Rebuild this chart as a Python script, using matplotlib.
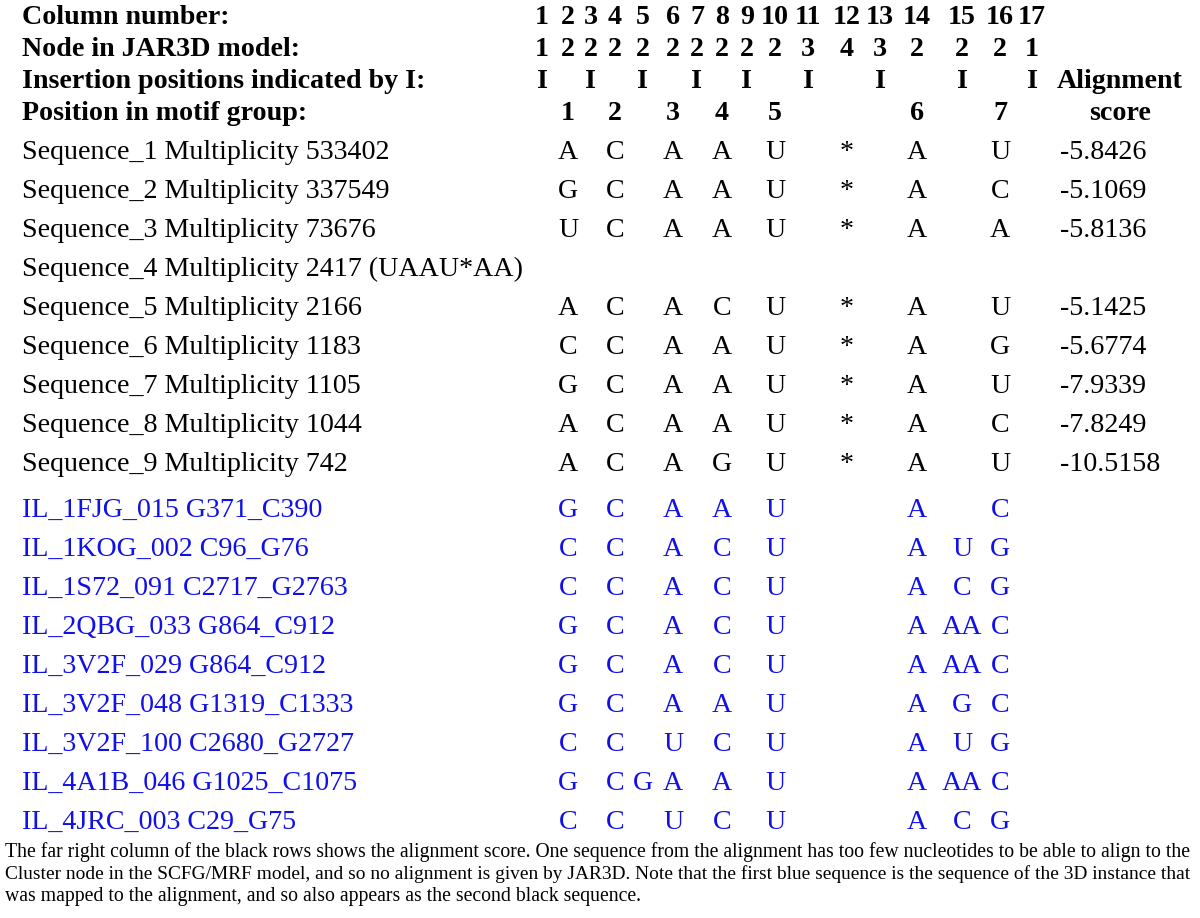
import matplotlib.pyplot as plt

plt.rcParams['font.family'] = ['Liberation Serif', 'DejaVu Serif']

# header rows (one entry per alignment column)
column_numbers = [str(i) for i in range(1, 18)]
node_numbers = ['1', '2', '2', '2', '2', '2', '2', '2', '2', '2', '3', '4', '3', '2', '2', '2', '1']
insertions = ['I', '', 'I', '', 'I', '', 'I', '', 'I', '', 'I', '', 'I', '', 'I', '', 'I']
motif_positions = ['', '1', '', '2', '', '3', '', '4', '', '5', '', '', '', '6', '', '7', '']

header_labels = ['Column number:', 'Node in JAR3D model:',
                 'Insertion positions indicated by I:', 'Position in motif group:']

# black rows: sequences from the alignment
seq_labels = ['Sequence_1 Multiplicity 533402', 'Sequence_2 Multiplicity 337549',
              'Sequence_3 Multiplicity 73676', 'Sequence_4 Multiplicity 2417 (UAAU*AA)',
              'Sequence_5 Multiplicity 2166', 'Sequence_6 Multiplicity 1183',
              'Sequence_7 Multiplicity 1105', 'Sequence_8 Multiplicity 1044',
              'Sequence_9 Multiplicity 742']
seq_cells = [
    '. A . C . A . A . U . * . A . U .',
    '. G . C . A . A . U . * . A . C .',
    '. U . C . A . A . U . * . A . A .',
    '',
    '. A . C . A . C . U . * . A . U .',
    '. C . C . A . A . U . * . A . G .',
    '. G . C . A . A . U . * . A . U .',
    '. A . C . A . A . U . * . A . C .',
    '. A . C . A . G . U . * . A . U .',
]
seq_scores = ['-5.8426', '-5.1069', '-5.8136', '', '-5.1425', '-5.6774',
              '-7.9339', '-7.8249', '-10.5158']

# blue rows: 3D instances
inst_labels = ['IL_1FJG_015 G371_C390', 'IL_1KOG_002 C96_G76', 'IL_1S72_091 C2717_G2763',
               'IL_2QBG_033 G864_C912', 'IL_3V2F_029 G864_C912', 'IL_3V2F_048 G1319_C1333',
               'IL_3V2F_100 C2680_G2727', 'IL_4A1B_046 G1025_C1075', 'IL_4JRC_003 C29_G75']
inst_cells = [
    '. G . C . A . A . U . . . A . C .',
    '. C . C . A . C . U . . . A U G .',
    '. C . C . A . C . U . . . A C G .',
    '. G . C . A . C . U . . . A AA C .',
    '. G . C . A . C . U . . . A AA C .',
    '. G . C . A . A . U . . . A G C .',
    '. C . C . U . C . U . . . A U G .',
    '. G . C G A . A . U . . . A AA C .',
    '. C . C . U . C . U . . . A C G .',
]

caption_lines = [
    "The far right column of the black rows shows the alignment score. One sequence from the alignment has too few nucleotides to be able to align to the",
    "Cluster node in the SCFG/MRF model, and so no alignment is given by JAR3D. Note that the first blue sequence is the sequence of the 3D instance that",
    "was mapped to the alignment, and so also appears as the second black sequence.",
]

# layout (pixels)
col_x = [542, 568, 591, 615, 643, 673, 697, 722, 747, 775, 808, 847, 880, 917, 962, 1000, 1032]
label_x = 22
score_x = 1060
fs = 20.2
blue = '#1010e8'

fig = plt.figure(figsize=(12, 9.18), dpi=100)
ax = fig.add_axes([0, 0, 1, 1])
ax.set_xlim(0, 1200)
ax.set_ylim(918, 0)
ax.axis('off')

header_y = [24, 56, 88, 120]
for y, lab, cells in zip(header_y, header_labels,
                         [column_numbers, node_numbers, insertions, motif_positions]):
    ax.text(label_x, y, lab, fontsize=fs, fontweight='bold', va='baseline')
    for x, c in zip(col_x, cells):
        ax.text(x, y, c, fontsize=fs, fontweight='bold', ha='center', va='baseline')
ax.text(1120, header_y[2], 'Alignment', fontsize=fs, fontweight='bold', ha='center', va='baseline')
ax.text(1120, header_y[3], 'score', fontsize=fs, fontweight='bold', ha='center', va='baseline')


def draw_rows(y0, labels, cells, color, scores=None):
    for i, lab in enumerate(labels):
        y = y0 + 39 * i
        ax.text(label_x, y, lab, fontsize=fs, color=color, va='baseline')
        if cells[i]:
            for x, c in zip(col_x, cells[i].split()):
                if c != '.':
                    ax.text(x, y, c, fontsize=fs, color=color, ha='center', va='baseline')
        if scores and scores[i]:
            ax.text(score_x, y, scores[i], fontsize=fs, color=color, va='baseline')


draw_rows(159, seq_labels, seq_cells, 'black', seq_scores)
draw_rows(517, inst_labels, inst_cells, blue)

# caption: first two lines are justified to the full width, so fit each one
renderer = fig.canvas.get_renderer()
cap_fs = 14.0
for i, line in enumerate(caption_lines):
    t = ax.text(5, 857 + 22 * i, line, fontsize=cap_fs, va='baseline')
    if i < 2:
        w = t.get_window_extent(renderer).width
        t.set_fontsize(cap_fs * 1190 / w)
        if i == 0:
            first_fs = cap_fs * 1190 / w
    else:
        t.set_fontsize(first_fs)

fig.savefig('out.png', dpi=100)
